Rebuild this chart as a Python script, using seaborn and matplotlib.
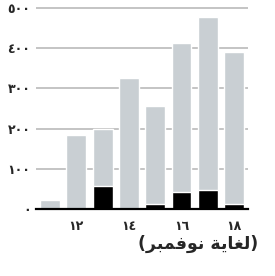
import seaborn as sns
import matplotlib.pyplot as plt

# data
years = ["2011", "2012", "2013", "2014", "2015", "2016", "2017", "2018"]
total = [22, 185, 200, 325, 257, 412, 477, 390]
part = [0, 0, 57, 0, 12, 42, 47, 12]
xlabels = ["", "١٢", "", "١٤", "", "١٦", "", "١٨"]
ylabels = ["٠", "١٠٠", "٢٠٠", "٣٠٠", "٤٠٠", "٥٠٠"]
note = "(ﺮﺒﻤﻓﻮﻧ ﺔﻳﺎﻐﻟ)"

sns.set_style("white")
plt.rcParams['font.family'] = ['DejaVu Sans']

fig = plt.figure(figsize=(2.75, 2.76), dpi=100)
ax = fig.add_axes([0.131, 0.243, 0.771, 0.735])

sns.barplot(x=years, y=total, color="#c9cfd3", saturation=1, width=0.76, ax=ax, zorder=2)
sns.barplot(x=years, y=part, color="black", saturation=1, width=0.76, ax=ax, zorder=3)

ax.set_ylim(0, 505)
ax.set_xlim(-0.53, 7.53)
ax.set_yticks([0, 100, 200, 300, 400, 500])
ax.set_yticklabels(ylabels, fontsize=9, fontweight="bold")
ax.set_xticks(range(len(years)))
ax.set_xticklabels(xlabels, fontsize=9, fontweight="bold")
ax.yaxis.grid(True, color="#c4c4c4", linewidth=1.4, zorder=0)
ax.set_axisbelow(True)
for s in ["top", "right", "left"]:
    ax.spines[s].set_visible(False)
ax.spines["bottom"].set_linewidth(1.6)
ax.spines["bottom"].set_color("black")
ax.spines["bottom"].set_zorder(4)
ax.tick_params(axis="x", length=3, width=1.2, color="black", pad=5)
ax.tick_params(axis="y", length=0, pad=4)
ax.set_xlabel("")
ax.set_ylabel("")

fig.text(0.94, 0.115, note, fontsize=12.5, fontweight="bold", ha="right", va="center")

plt.savefig("out.png", dpi=100)
